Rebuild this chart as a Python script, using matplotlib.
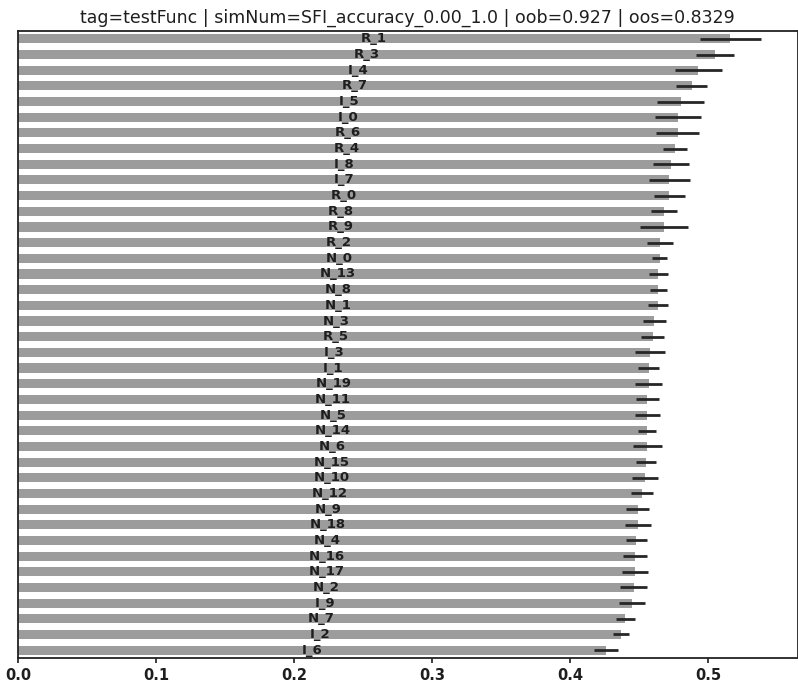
import matplotlib
matplotlib.use('Agg')
import matplotlib.pyplot as plt
import numpy as np

# feature importance, listed top to bottom as in the chart
features = ['R_1', 'R_3', 'I_4', 'R_7', 'I_5', 'I_0', 'R_6', 'R_4', 'I_8', 'I_7',
            'R_0', 'R_8', 'R_9', 'R_2', 'N_0', 'N_13', 'N_8', 'N_1', 'N_3', 'R_5',
            'I_3', 'I_1', 'N_19', 'N_11', 'N_5', 'N_14', 'N_6', 'N_15', 'N_10', 'N_12',
            'N_9', 'N_18', 'N_4', 'N_16', 'N_17', 'N_2', 'I_9', 'N_7', 'I_2', 'I_6']
mean_imp = [0.516, 0.505, 0.493, 0.488, 0.480, 0.478, 0.478, 0.476, 0.473, 0.472,
            0.472, 0.468, 0.468, 0.465, 0.465, 0.464, 0.464, 0.464, 0.461, 0.460,
            0.458, 0.457, 0.457, 0.456, 0.456, 0.456, 0.456, 0.455, 0.454, 0.452,
            0.449, 0.449, 0.448, 0.447, 0.447, 0.446, 0.445, 0.440, 0.437, 0.426]
std_imp = [0.022, 0.014, 0.017, 0.011, 0.017, 0.0165, 0.0157, 0.0088, 0.0129, 0.0147,
           0.011, 0.0093, 0.0176, 0.0093, 0.0054, 0.007, 0.0063, 0.0072, 0.0085, 0.0083,
           0.0109, 0.0077, 0.0097, 0.0081, 0.0088, 0.0066, 0.0104, 0.0075, 0.0094, 0.0081,
           0.0082, 0.0094, 0.0077, 0.009, 0.0094, 0.0099, 0.0093, 0.0068, 0.0056, 0.0088]

title = 'tag=testFunc | simNum=SFI_accuracy_0.00_1.0 | oob=0.927 | oos=0.8329'

BAR_COLOR = '#9c9c9c'
ERR_COLOR = '#262626'
TEXT = '#1e1e1e'

fig = plt.figure(figsize=(7.98, 6.85), dpi=100)
ax = fig.add_axes([0.0226, 0.0394, 0.977, 0.9153])

# ascending order: smallest at the bottom
names = features[::-1]
means = np.array(mean_imp[::-1])
stds = np.array(std_imp[::-1])
ypos = np.arange(len(names))

bars = ax.barh(ypos, means, height=0.58, color=BAR_COLOR, xerr=stds,
               error_kw={'ecolor': ERR_COLOR, 'elinewidth': 2.0})
for b, name in zip(bars.patches, names):
    ax.text(b.get_width() / 2, b.get_y() + b.get_height() / 2, name,
            ha='center', va='center', color=TEXT, fontsize=9.5,
            fontweight='semibold')

ax.set_ylim(-0.5, len(names) - 0.5)
ax.get_yaxis().set_visible(False)
for sp in ax.spines.values():
    sp.set_linewidth(1.3)
    sp.set_color('#222222')
ax.set_xticks([0.0, 0.1, 0.2, 0.3, 0.4, 0.5])
ax.tick_params(axis='x', labelsize=10.5, width=1.2, colors=TEXT)
for lbl in ax.get_xticklabels():
    lbl.set_fontweight('semibold')
ax.set_title(title, fontsize=12.5, color=TEXT)

fig.savefig('out.png', dpi=100)
